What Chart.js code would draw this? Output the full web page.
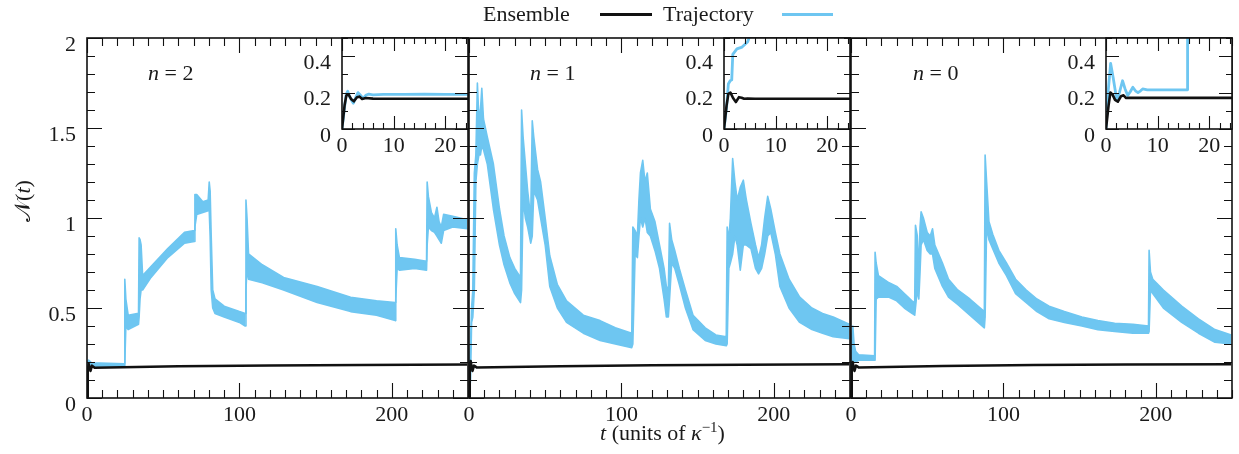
<!DOCTYPE html>
<html>
<head>
<meta charset="utf-8">
<script src="https://cdn.jsdelivr.net/npm/chart.js@4.4.0/dist/chart.umd.min.js"></script>
<style>
  body { margin: 0; background: #fff; }
  #wrap { position: relative; width: 1239px; height: 454px; font-family: 'Liberation Serif', 'DejaVu Serif', serif; color: #1a1a1a; }
  canvas { position: absolute; left: 0; top: 0; }
  .txt { position: absolute; font-size: 22px; line-height: 22px; white-space: nowrap; }
  .key { position: absolute; height: 3px; }
  sup { font-size: 15px; line-height: 0; }
</style>
</head>
<body>
<div id="wrap">
  <canvas id="m2" width="1239" height="454"></canvas>
  <canvas id="m1" width="1239" height="454"></canvas>
  <canvas id="m0" width="1239" height="454"></canvas>
  <canvas id="i2" width="1239" height="454"></canvas>
  <canvas id="i1" width="1239" height="454"></canvas>
  <canvas id="i0" width="1239" height="454"></canvas>

  <!-- légende -->
  <div class="txt" style="left:483px;top:3px">Ensemble</div>
  <div class="key" style="left:600px;top:13px;width:52px;background:#111"></div>
  <div class="txt" style="left:663px;top:3px">Trajectory</div>
  <div class="key" style="left:782px;top:13px;width:51px;background:#6ec6f1"></div>

  <div class="txt" style="left:148px;top:62px"><i>n</i> = 2</div>
  <div class="txt" style="left:530px;top:62px"><i>n</i> = 1</div>
  <div class="txt" style="left:913px;top:62px"><i>n</i> = 0</div>

  <div class="txt" style="left:-2px;top:190px;width:50px;text-align:center;transform:rotate(-90deg)">𝒩(<i>t</i>)</div>
  <div class="txt" style="left:600px;top:422px"><i>t</i> (units of <i>κ</i><sup>−1</sup>)</div>
</div>

<script>
// axes
const mainXTicks = [0, 100, 200];
const mainYTicks = [0, 0.5, 1, 1.5, 2];
const insetXTicks = [0, 10, 20];
const insetYTicks = [0, 0.2, 0.4];

// n = 2 : trajectoire (enveloppe basse / haute du bruit)
const tN2 = [0, 0.5, 1, 3, 24.6, 24.8, 25.5, 27, 33.8, 34.2, 34.8, 35.5, 36.5, 42, 53, 64, 70.4, 70.8, 72, 76, 79.5, 80.2, 80.8, 81.5, 82.5, 84, 90, 100, 103.8, 104.3, 105, 106, 115, 129, 151, 173, 190, 202.2, 202.6, 203.5, 205, 215, 222.8, 223.2, 224, 226, 228, 229.6, 231, 232.5, 234, 240, 249.5];
const loN2 = [0, 0.15, 0.17, 0.175, 0.175, 0.19, 0.40, 0.38, 0.41, 0.45, 0.55, 0.6, 0.6, 0.67, 0.78, 0.86, 0.87, 0.95, 1.02, 1.03, 1.04, 1.04, 0.9, 0.6, 0.5, 0.47, 0.45, 0.42, 0.40, 0.6, 0.72, 0.66, 0.64, 0.6, 0.53, 0.48, 0.46, 0.43, 0.55, 0.72, 0.71, 0.72, 0.71, 0.85, 0.95, 0.93, 0.92, 0.9, 0.88, 0.86, 0.93, 0.95, 0.94];
const hiN2 = [0, 0.2, 0.21, 0.195, 0.19, 0.66, 0.55, 0.46, 0.47, 0.89, 0.88, 0.85, 0.68, 0.73, 0.83, 0.92, 0.93, 1.13, 1.13, 1.09, 1.10, 1.20, 1.15, 0.9, 0.6, 0.55, 0.51, 0.48, 0.47, 1.1, 1.0, 0.80, 0.74, 0.67, 0.62, 0.56, 0.54, 0.53, 0.94, 0.85, 0.78, 0.77, 0.76, 1.2, 1.12, 1.03, 1.0, 1.06, 0.98, 0.95, 1.02, 1.01, 0.99];

// n = 1
const tN1 = [0, 1, 1.7, 2.5, 3.5, 4.5, 5.5, 6.5, 7.5, 8.4, 9.5, 12, 16, 20, 23, 26.8, 30, 33.8, 34.5, 35.5, 37, 38.5, 40.5, 41.5, 42.5, 45, 47, 50, 53, 58, 64, 75, 86, 96, 106.8, 107.5, 109, 110.5, 111.5, 112.5, 114, 115.5, 117, 119, 122, 125, 128, 129.5, 130.8, 131.6, 133, 135, 138, 142, 147, 155, 162, 168.8, 169.4, 170.5, 171.5, 173, 174.5, 176, 178, 180, 182, 185, 188, 190, 192, 194, 196, 198, 201, 204, 210, 217, 225, 232, 239, 249.5];
const loN1 = [0, 0.1, 0.42, 0.45, 0.6, 1.2, 1.3, 1.35, 1.35, 1.4, 1.38, 1.30, 1.05, 0.85, 0.74, 0.64, 0.58, 0.53, 0.6, 1.1, 1.0, 0.95, 0.86, 0.9, 1.15, 1.1, 1.0, 0.85, 0.62, 0.5, 0.42, 0.36, 0.32, 0.3, 0.28, 0.3, 0.8, 0.78, 0.9, 1.0, 0.95, 1.0, 0.92, 0.9, 0.82, 0.72, 0.55, 0.45, 0.45, 0.55, 0.75, 0.72, 0.63, 0.5, 0.38, 0.32, 0.3, 0.29, 0.3, 0.72, 0.75, 0.8, 0.9, 0.85, 0.71, 0.85, 0.85, 0.83, 0.72, 0.69, 0.72, 0.8, 0.9, 0.92, 0.8, 0.62, 0.5, 0.42, 0.38, 0.36, 0.34, 0.33];
const hiN1 = [0, 0.3, 0.5, 0.6, 1.25, 1.35, 1.75, 1.55, 1.6, 1.72, 1.55, 1.45, 1.30, 1.05, 0.9, 0.78, 0.72, 0.67, 1.6, 1.45, 1.3, 1.15, 1.0, 1.54, 1.45, 1.27, 1.2, 1.0, 0.79, 0.63, 0.54, 0.46, 0.43, 0.39, 0.36, 0.95, 0.93, 0.9, 1.1, 1.25, 1.32, 1.2, 1.25, 1.05, 0.98, 0.85, 0.72, 0.62, 0.6, 0.97, 0.88, 0.82, 0.72, 0.6, 0.46, 0.39, 0.35, 0.34, 0.95, 0.88, 1.0, 1.33, 1.2, 1.1, 1.17, 1.21, 1.1, 0.97, 0.85, 0.78, 0.85, 1.0, 1.12, 1.05, 0.92, 0.8, 0.66, 0.56, 0.5, 0.47, 0.45, 0.41];

// n = 0
const tN0 = [0, 0.6, 1.2, 2, 3, 5, 15.5, 15.8, 16.5, 18, 25, 30, 35, 40, 41.8, 42.3, 43.5, 44.5, 45.3, 46, 47.5, 50, 52, 53.5, 55, 60, 64, 70, 78, 87.5, 88, 89, 90.5, 93, 97, 102, 108, 115, 122, 130, 140, 151.5, 162, 173, 185, 195.2, 195.6, 196.5, 198, 205, 217, 228, 238.8, 249.5];
const loN0 = [0, 0.1, 0.25, 0.2, 0.2, 0.21, 0.21, 0.21, 0.55, 0.56, 0.56, 0.54, 0.5, 0.47, 0.46, 0.5, 0.6, 0.55, 0.7, 0.85, 0.88, 0.82, 0.8, 0.8, 0.72, 0.62, 0.56, 0.52, 0.46, 0.39, 0.45, 0.95, 0.88, 0.83, 0.75, 0.68, 0.58, 0.53, 0.48, 0.44, 0.42, 0.40, 0.38, 0.37, 0.36, 0.36, 0.37, 0.6, 0.58, 0.5, 0.42, 0.36, 0.31, 0.30];
const hiN0 = [0, 0.35, 0.40, 0.3, 0.26, 0.24, 0.235, 0.81, 0.75, 0.68, 0.64, 0.62, 0.58, 0.54, 0.53, 0.96, 0.9, 0.7, 0.95, 1.035, 1.0, 0.92, 0.9, 0.94, 0.85, 0.75, 0.66, 0.6, 0.55, 0.48, 1.35, 1.2, 0.98, 0.91, 0.82, 0.75, 0.66, 0.6, 0.55, 0.51, 0.48, 0.45, 0.43, 0.415, 0.41, 0.40, 0.82, 0.7, 0.66, 0.6, 0.51, 0.44, 0.38, 0.35];

// moyenne d'ensemble (panneaux principaux)
const tEns = [0, 0.5, 1.1, 2.3, 3.3, 5, 60, 120, 180, 249.5];
const ensN2 = [0, 0.15, 0.19, 0.15, 0.18, 0.168, 0.176, 0.181, 0.184, 0.186];
const ensN1 = [0, 0.15, 0.205, 0.15, 0.18, 0.17, 0.177, 0.182, 0.185, 0.187];
const ensN0 = [0, 0.15, 0.2, 0.15, 0.18, 0.17, 0.178, 0.183, 0.186, 0.188];

// encarts (t de 0 à 24.4)
const tInsTrajN2 = [0, 0.5, 0.8, 1.1, 1.6, 2.2, 2.7, 3.1, 3.6, 4.1, 4.6, 5.2, 6, 8, 12, 16, 20, 24.4];
const insTrajN2 = [0, 0.12, 0.19, 0.207, 0.17, 0.142, 0.175, 0.2, 0.185, 0.168, 0.185, 0.192, 0.188, 0.19, 0.19, 0.191, 0.19, 0.19];
const tInsTrajN1 = [0, 0.5, 0.84, 1.2, 1.5, 1.7, 2.5, 3.5, 4.6, 5.2];
const insTrajN1 = [0, 0.12, 0.247, 0.265, 0.27, 0.41, 0.44, 0.45, 0.48, 0.53];
const tInsTrajN0 = [0, 0.4, 0.9, 1.4, 2.1, 2.6, 3.2, 3.7, 4.2, 4.7, 5.2, 5.7, 6.2, 6.7, 7.1, 8, 15.8, 15.8];
const insTrajN0 = [0, 0.2, 0.36, 0.28, 0.157, 0.2, 0.265, 0.22, 0.184, 0.205, 0.229, 0.21, 0.2, 0.21, 0.22, 0.215, 0.215, 0.6];

const tInsEns = [0, 0.5, 0.85, 1.25, 1.75, 2.3, 2.9, 3.4, 3.9, 4.6, 6, 10, 24.4];
const insEnsN2 = [0, 0.13, 0.185, 0.19, 0.165, 0.152, 0.175, 0.178, 0.165, 0.17, 0.167, 0.166, 0.166];
const insEnsN1 = [0, 0.13, 0.193, 0.2, 0.17, 0.148, 0.175, 0.172, 0.166, 0.168, 0.166, 0.166, 0.166];
const insEnsN0 = [0, 0.13, 0.2, 0.19, 0.16, 0.15, 0.18, 0.185, 0.17, 0.172, 0.171, 0.171, 0.171];

const BLUE = '#6ec6f1';
const INK = '#111';
const W = 1239;
const H = 454;
// taille réservée aux étiquettes (sinon Chart.js les découpe)
const Y_W = 60;
const X_H = 40;

Chart.defaults.font.family = "'Liberation Serif', 'DejaVu Serif', serif";
Chart.defaults.font.size = 22;
Chart.defaults.color = '#1a1a1a';
Chart.defaults.animation = false;

function xy(ts, vs) {
  return ts.map((t, i) => ({ x: t, y: vs[i] }));
}

// graduations secondaires (positions seulement)
function steps(min, max, step) {
  const out = [];
  for (let v = min; v <= max + 1e-9; v += step) out.push(+v.toFixed(6));
  return out;
}

// cadre + graduations vers l'intérieur sur les 4 côtés
function frame(cfg) {
  return {
    id: 'frame',
    beforeDraw(chart) {
      if (!cfg.white) return;
      const a = chart.chartArea;
      chart.ctx.save();
      chart.ctx.fillStyle = '#fff';
      chart.ctx.fillRect(a.left, a.top, a.width, a.height);
      chart.ctx.restore();
    },
    afterDraw(chart) {
      const { ctx, chartArea: a, scales: { x, y } } = chart;
      ctx.save();
      ctx.strokeStyle = INK;
      ctx.lineWidth = 1.1;
      ctx.beginPath();
      const xt = (list, len) => list.forEach((v) => {
        const p = Math.round(x.getPixelForValue(v)) + 0.5;
        ctx.moveTo(p, a.bottom); ctx.lineTo(p, a.bottom - len);
        ctx.moveTo(p, a.top); ctx.lineTo(p, a.top + len);
      });
      const yt = (list, len) => list.forEach((v) => {
        const p = Math.round(y.getPixelForValue(v)) + 0.5;
        ctx.moveTo(a.left, p); ctx.lineTo(a.left + len, p);
        ctx.moveTo(a.right, p); ctx.lineTo(a.right - len, p);
      });
      xt(cfg.xMinor, cfg.minor);
      xt(cfg.xMajor, cfg.major);
      yt(cfg.yMinor, cfg.minor);
      yt(cfg.yMajor, cfg.major);
      ctx.stroke();
      ctx.lineWidth = 1.6;
      ctx.strokeRect(a.left, a.top, a.width, a.height);
      ctx.restore();
    },
  };
}

function panel(id, box, xMax, yMax, xTicks, yTicks, showY, datasets, ticksCfg) {
  return new Chart(document.getElementById(id), {
    type: 'line',
    data: { datasets },
    options: {
      responsive: false,
      layout: { padding: { left: box.l - Y_W, top: box.t, right: W - box.r, bottom: H - box.b - X_H } },
      elements: { point: { radius: 0 }, line: { tension: 0, borderJoinStyle: 'round' } },
      plugins: { legend: { display: false }, tooltip: { enabled: false } },
      scales: {
        x: {
          type: 'linear', min: 0, max: xMax,
          grid: { display: false, drawTicks: false }, border: { display: false },
          ticks: { padding: 4, autoSkip: false, maxRotation: 0, callback: (v) => String(v) },
          afterBuildTicks: (s) => { s.ticks = xTicks.map((v) => ({ value: v })); },
          afterFit: (s) => { s.height = X_H; },
        },
        y: {
          type: 'linear', min: 0, max: yMax,
          grid: { display: false, drawTicks: false }, border: { display: false },
          ticks: { display: showY, padding: 11, labelOffset: 7, autoSkip: false, callback: (v) => String(v) },
          afterBuildTicks: (s) => { s.ticks = yTicks.map((v) => ({ value: v })); },
          afterFit: (s) => { s.width = Y_W; },
        },
      },
    },
    plugins: [frame(ticksCfg)],
  });
}

function mainSets(tTraj, lo, hi, ens) {
  return [
    { data: xy(tEns, ens), borderColor: INK, borderWidth: 2.5, fill: false },
    { data: xy(tTraj, lo), borderColor: BLUE, borderWidth: 1.6, fill: false },
    { data: xy(tTraj, hi), borderColor: BLUE, borderWidth: 1.6, backgroundColor: BLUE, fill: '-1' },
  ];
}

function insetSets(tTraj, traj, ens) {
  return [
    { data: xy(tInsEns, ens), borderColor: INK, borderWidth: 2.6, fill: false },
    { data: xy(tTraj, traj), borderColor: BLUE, borderWidth: 2.8, fill: false },
  ];
}

const mainTicks = { xMajor: mainXTicks, xMinor: steps(0, 250, 10), yMajor: mainYTicks, yMinor: steps(0, 2, 0.1), major: 15, minor: 8 };
const insetTicks = { xMajor: insetXTicks, xMinor: steps(0, 24, 2), yMajor: insetYTicks, yMinor: steps(0, 0.5, 0.1), major: 13, minor: 6, white: true };

panel('m2', { l: 87, r: 468, t: 38, b: 398 }, 250, 2, mainXTicks, mainYTicks, true, mainSets(tN2, loN2, hiN2, ensN2), mainTicks);
panel('m1', { l: 469, r: 850, t: 38, b: 398 }, 250, 2, mainXTicks, mainYTicks, false, mainSets(tN1, loN1, hiN1, ensN1), mainTicks);
panel('m0', { l: 851, r: 1232, t: 38, b: 398 }, 250, 2, mainXTicks, mainYTicks, false, mainSets(tN0, loN0, hiN0, ensN0), mainTicks);

panel('i2', { l: 342, r: 468, t: 38, b: 129 }, 24.4, 0.5, insetXTicks, insetYTicks, true, insetSets(tInsTrajN2, insTrajN2, insEnsN2), insetTicks);
panel('i1', { l: 724, r: 850, t: 38, b: 129 }, 24.4, 0.5, insetXTicks, insetYTicks, true, insetSets(tInsTrajN1, insTrajN1, insEnsN1), insetTicks);
panel('i0', { l: 1106, r: 1232, t: 38, b: 129 }, 24.4, 0.5, insetXTicks, insetYTicks, true, insetSets(tInsTrajN0, insTrajN0, insEnsN0), insetTicks);
</script>
</body>
</html>
